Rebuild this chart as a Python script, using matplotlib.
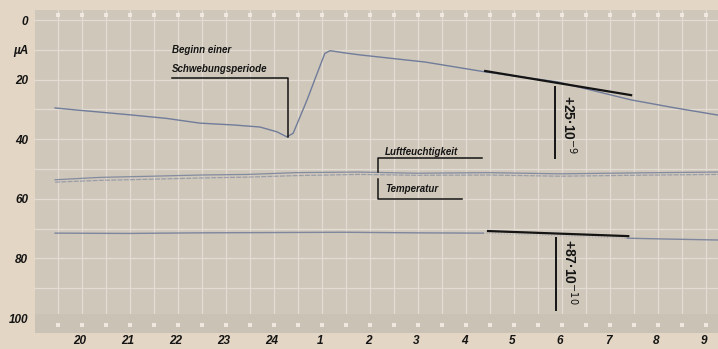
import numpy as np
import matplotlib
matplotlib.use("Agg")
import matplotlib.pyplot as plt

# hour axis: index 0 = 20 h ... index 13 = 9 h
hour_labels = ['20', '21', '22', '23', '24', '1', '2', '3', '4', '5', '6', '7', '8', '9']
y_ticks = [0, 10, 20, 40, 60, 80, 100]
y_labels = ['0', 'µA', '20', '40', '60', '80', '100']

# Ionisationsstrom (upper trace), read from the strip
strom_h = [-0.52, 0.0, 0.42, 1.1, 1.8, 2.5, 3.19, 3.75, 4.1, 4.31,
           4.44, 4.73, 4.94, 5.1, 5.21, 5.5, 5.83, 7.19, 8.44, 9.96, 11.48, 12.4, 13.29]
strom_v = [29.5, 30.3, 30.9, 31.9, 33.0, 34.6, 35.2, 35.9, 37.5, 39.2,
           38.0, 26.8, 17.9, 11.2, 10.3, 11.0, 11.7, 14.1, 17.4, 20.8, 26.8, 29.5, 31.9]

# Luftfeuchtigkeit / Temperatur (middle band)
feucht_h = [-0.52, 0.4, 1.5, 2.5, 3.5, 4.5, 5.8, 7.0, 8.5, 10.0, 11.5, 13.29]
feucht_v = [53.6, 52.8, 52.4, 52.0, 51.8, 51.2, 51.0, 51.4, 51.2, 51.6, 51.3, 51.0]
temp_h = [-0.52, 0.4, 1.5, 2.5, 3.5, 4.5, 5.8, 7.0, 8.5, 10.0, 11.5, 13.29]
temp_v = [54.4, 53.8, 53.4, 53.0, 52.7, 52.2, 51.8, 52.1, 52.0, 52.4, 52.1, 51.8]

# lower current trace
unten_h = [-0.52, 1.0, 2.5, 4.0, 5.5, 7.0, 8.4]
unten_v = [71.5, 71.6, 71.4, 71.3, 71.2, 71.4, 71.5]
unten2_h = [11.4, 12.3, 13.29]
unten2_v = [73.2, 73.5, 73.8]

# hand-drawn tangents and their slopes
tang1_h = [8.44, 11.48]
tang1_v = [17.1, 25.2]
tang2_h = [8.5, 11.42]
tang2_v = [70.8, 72.5]
slope1 = '+25·10$^{-9}$'
slope2 = '+87·10$^{-10}$'

paper = '#cfc7ba'
margin = '#e4d6c4'
grid_c = '#e2dcd2'
trace = '#707c9a'
ink = '#141414'

plt.rcParams['font.family'] = ['Liberation Sans', 'DejaVu Sans']

fig = plt.figure(figsize=(7.18, 3.49), dpi=100, facecolor=margin)
ax = fig.add_axes([35 / 718, 16 / 349, 683 / 718, 323 / 349])
ax.set_facecolor(paper)

ax.set_xlim(-0.9375, 13.29)
ax.set_ylim(105.0, -3.36)

# chart paper grid
for gx in np.arange(-0.45, 13.3, 0.5):
    ax.axvline(gx, color=grid_c, lw=0.9, zorder=0)
for gy in np.arange(0, 101, 10):
    ax.axhline(gy, color=grid_c, lw=0.9, zorder=0)
ax.axhspan(98.5, 105, color='#cac2b5', zorder=0, lw=0)
dots = np.arange(-0.45, 13.3, 0.5)
ax.scatter(dots, [-1.7] * len(dots), marker='s', s=5, color='#eee8de', zorder=1, lw=0)
ax.scatter(dots, [102.3] * len(dots), marker='s', s=5, color='#eee8de', zorder=1, lw=0)

# traces
ax.plot(strom_h, strom_v, color=trace, lw=1.0, zorder=2)
ax.plot(feucht_h, feucht_v, color=trace, lw=0.9, alpha=0.8, zorder=2)
ax.plot(temp_h, temp_v, color=trace, lw=0.9, alpha=0.55, ls=(0, (4, 1)), zorder=2)
ax.plot(unten_h, unten_v, color=trace, lw=1.0, alpha=0.85, zorder=2)
ax.plot([8.4, 11.4], [71.5, 73.2], color=trace, lw=0.8, alpha=0.4, ls=':', zorder=2)
ax.plot(unten2_h, unten2_v, color=trace, lw=1.0, alpha=0.85, zorder=2)

# tangents
ax.plot(tang1_h, tang1_v, color=ink, lw=1.6, zorder=3)
ax.plot([9.89, 9.89], [22.5, 46.3], color=ink, lw=1.4, zorder=3)
ax.text(10.2, 35.0, slope1, rotation=-90, ha='center', va='center',
        fontsize=10, fontweight='bold', color=ink)
ax.plot(tang2_h, tang2_v, color=ink, lw=1.6, zorder=3)
ax.plot([9.92, 9.92], [73.2, 97.3], color=ink, lw=1.4, zorder=3)
ax.text(10.22, 84.5, slope2, rotation=-90, ha='center', va='center',
        fontsize=10, fontweight='bold', color=ink)

# annotations
lab = dict(fontsize=7, fontweight='bold', fontstyle='italic', color=ink)
ax.text(1.92, 10.1, 'Beginn einer', ha='left', va='center', **lab)
ax.text(1.92, 16.3, 'Schwebungsperiode', ha='left', va='center', **lab)
ax.plot([1.92, 4.33, 4.33], [19.5, 19.5, 39.2], color=ink, lw=1.1, zorder=3)

ax.text(6.35, 44.2, 'Luftfeuchtigkeit', ha='left', va='center', **lab)
ax.plot([6.21, 6.21, 8.38], [51.0, 46.4, 46.4], color=ink, lw=1.1, zorder=3)
ax.text(6.35, 56.8, 'Temperatur', ha='left', va='center', **lab)
ax.plot([6.21, 6.21, 7.95], [53.3, 60.0, 60.0], color=ink, lw=1.1, zorder=3)

# axes
ax.set_xticks(range(len(hour_labels)))
ax.set_xticklabels(hour_labels, fontsize=8.5, fontweight='bold', fontstyle='italic', color=ink)
ax.set_yticks(y_ticks)
ax.set_yticklabels(y_labels, fontsize=8.5, fontweight='bold', fontstyle='italic', color=ink)
ax.tick_params(length=0, pad=1.5)
ax.tick_params(axis='y', pad=5)
for s in ax.spines.values():
    s.set_visible(False)

fig.savefig('out.png', dpi=100, facecolor=margin)
